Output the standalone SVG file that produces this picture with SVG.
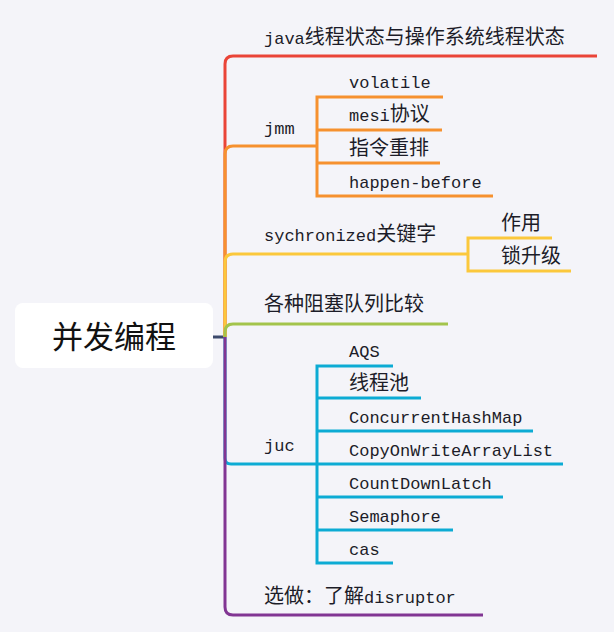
<svg xmlns="http://www.w3.org/2000/svg" width="614" height="632" viewBox="0 0 614 632">
<style>
.bg{fill:#f4f4f9}
.root{fill:#ffffff}
.rt{font-family:"Noto Sans CJK SC","Noto Sans",sans-serif;font-size:31px;fill:#111;text-anchor:middle}
.t{font-family:"Liberation Mono","Noto Sans CJK SC",monospace;font-size:17px;fill:#1c1c28}
.c{font-family:"Noto Sans CJK SC","Noto Sans",sans-serif;font-size:20px}
.ln{fill:none;stroke-width:3}
.red{stroke:#ea4438}
.org{stroke:#f6912f}
.yel{stroke:#fbc83c}
.grn{stroke:#a3c44c}
.blu{stroke:#0cabd4}
.pur{stroke:#813593}
.dk{stroke:#3c4a6c}
</style>
<rect class="bg" x="0" y="0" width="614" height="632"/>
<g id="connectors">
  <path class="ln dk" d="M213,337 H226"/>
  <path class="ln red" d="M225,337 V64 Q225,56 233,56 H597"/>
  <path class="ln org" d="M225,337 V154 Q225,146 233,146 H317"/>
  <path class="ln org" d="M443,97 H317 V196 H493 M317,130 H442 M317,163 H440"/>
  <path class="ln yel" d="M225,337 V262 Q225,254 233,254 H468"/>
  <path class="ln yel" d="M552,238 H468 V271 H571"/>
  <path class="ln grn" d="M225,337 V332 Q225,324 233,324 H448"/>
  <path class="ln blu" d="M225,337 V458 Q225,464 231,464 H317"/>
  <path class="ln blu" d="M393,366 H317 V563 H393 M317,398 H421 M317,431 H533 M317,464 H563 M317,497 H503 M317,530 H453"/>
  <path class="ln pur" d="M225,337 V607 Q225,615 233,615 H483"/>
</g>
<g id="root">
  <rect class="root" x="15" y="303" width="198" height="65" rx="8"/>
  <text class="rt" x="114" y="348">并发编程</text>
</g>
<g id="n-java"><text class="t" x="264" y="44">java<tspan class="c">线程状态与操作系统线程状态</tspan></text></g>
<g id="n-jmm"><text class="t" x="264" y="134">jmm</text></g>
<g id="n-volatile"><text class="t" x="349" y="88">volatile</text></g>
<g id="n-mesi"><text class="t" x="349" y="121">mesi<tspan class="c">协议</tspan></text></g>
<g id="n-reorder"><text class="t c" x="349" y="155">指令重排</text></g>
<g id="n-hb"><text class="t" x="349" y="188">happen-before</text></g>
<g id="n-sync"><text class="t" x="264" y="241">sychronized<tspan class="c">关键字</tspan></text></g>
<g id="n-use"><text class="t c" x="501" y="230">作用</text></g>
<g id="n-lock"><text class="t c" x="501" y="263">锁升级</text></g>
<g id="n-queue"><text class="t c" x="264" y="311">各种阻塞队列比较</text></g>
<g id="n-juc"><text class="t" x="264" y="451">juc</text></g>
<g id="n-aqs"><text class="t" x="349" y="357">AQS</text></g>
<g id="n-pool"><text class="t c" x="349" y="390">线程池</text></g>
<g id="n-chm"><text class="t" x="349" y="423">ConcurrentHashMap</text></g>
<g id="n-cow"><text class="t" x="349" y="456">CopyOnWriteArrayList</text></g>
<g id="n-cdl"><text class="t" x="349" y="489">CountDownLatch</text></g>
<g id="n-sem"><text class="t" x="349" y="522">Semaphore</text></g>
<g id="n-cas"><text class="t" x="349" y="555">cas</text></g>
<g id="n-disruptor"><text class="t" x="264" y="603"><tspan class="c">选做：了解</tspan>disruptor</text></g>
</svg>
